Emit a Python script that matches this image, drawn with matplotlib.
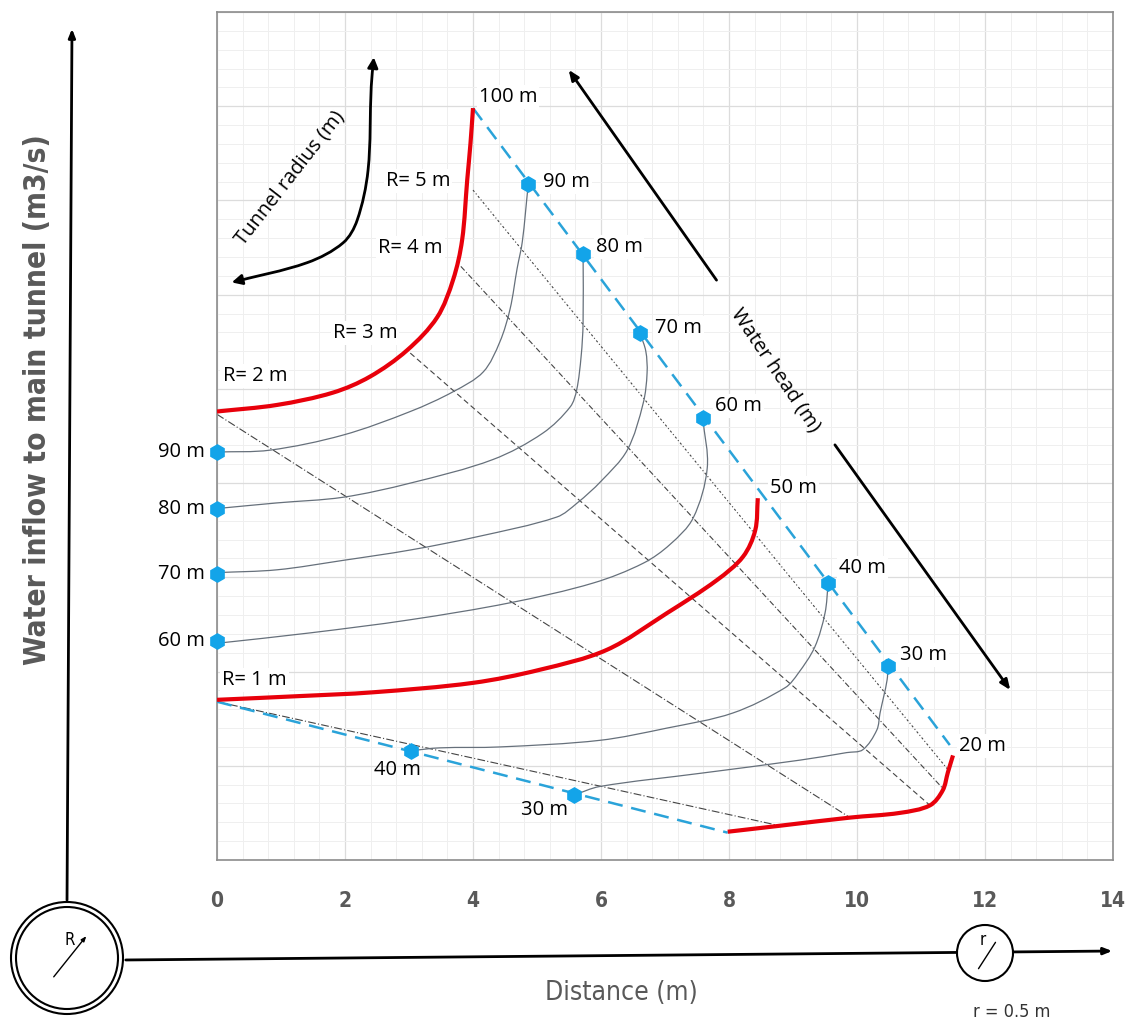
import matplotlib.pyplot as plt
from matplotlib.patches import Circle, FancyArrowPatch, PathPatch
from matplotlib.path import Path

# water head markers on the right (tunnel radius 5 m) edge
right_heads = ["90 m", "80 m", "70 m", "60 m", "40 m", "30 m"]
right_x = [4.86, 5.72, 6.61, 7.59, 9.55, 10.48]
right_y = [7.17, 6.43, 5.59, 4.69, 2.94, 2.06]

# water head markers on the left edge (distance 0)
left_heads = ["90 m", "80 m", "70 m", "60 m"]
left_x = [0, 0, 0, 0]
left_y = [4.33, 3.73, 3.04, 2.32]

# water head markers on the lower edge
bottom_heads = ["40 m", "30 m"]
bottom_x = [3.03, 5.58]
bottom_y = [1.16, 0.69]

# blue dashed envelopes
edge_right_x = [4.0, 11.45]
edge_right_y = [7.98, 1.22]
edge_bottom_x = [0.0, 7.98]
edge_bottom_y = [1.68, 0.29]

# red curves (100 m, 50 m, 20 m water head)
red100_x = [0.0, 0.94, 1.81, 2.39, 2.97, 3.44, 3.69, 3.83, 3.91, 3.96, 4.0]
red100_y = [4.76, 4.83, 4.96, 5.13, 5.41, 5.76, 6.16, 6.58, 7.22, 7.6, 7.98]
red50_x = [0.0, 1.30, 2.44, 4.0, 5.05, 6.09, 7.03, 7.81, 8.22, 8.41, 8.45]
red50_y = [1.70, 1.74, 1.78, 1.88, 2.02, 2.23, 2.62, 2.97, 3.22, 3.50, 3.84]
red20_x = [7.98, 8.75, 9.89, 10.67, 11.14, 11.34, 11.42, 11.50]
red20_y = [0.30, 0.36, 0.45, 0.50, 0.58, 0.74, 0.93, 1.11]

# grey curves for intermediate water heads
h90_x = [0.0, 0.83, 1.97, 3.02, 3.69, 4.16, 4.42, 4.58, 4.69, 4.77, 4.86]
h90_y = [4.33, 4.35, 4.51, 4.76, 4.97, 5.18, 5.50, 5.85, 6.28, 6.56, 7.15]
h80_x = [0.0, 0.94, 1.97, 3.02, 4.31, 5.09, 5.52, 5.62, 5.69, 5.72, 5.72]
h80_y = [3.73, 3.79, 3.85, 4.00, 4.25, 4.53, 4.81, 4.99, 5.35, 5.70, 6.43]
h70_x = [0.0, 0.94, 1.97, 3.02, 4.06, 5.31, 5.63, 6.0, 6.41, 6.66, 6.72, 6.70, 6.61]
h70_y = [3.05, 3.08, 3.18, 3.29, 3.43, 3.64, 3.79, 4.02, 4.35, 4.85, 5.17, 5.40, 5.59]
h60_x = [0.0, 1.45, 3.02, 4.58, 5.88, 6.66, 7.08, 7.44, 7.66, 7.59]
h60_y = [2.30, 2.41, 2.55, 2.73, 2.94, 3.15, 3.35, 3.63, 4.16, 4.69]
h40_x = [3.03, 3.48, 4.42, 5.98, 7.03, 8.06, 8.88, 9.08, 9.34, 9.50, 9.55]
h40_y = [1.16, 1.19, 1.20, 1.27, 1.40, 1.56, 1.83, 1.98, 2.26, 2.62, 2.94]
h30_x = [5.58, 5.98, 7.55, 9.11, 9.84, 10.09, 10.31, 10.36, 10.47, 10.48]
h30_y = [0.69, 0.78, 0.92, 1.06, 1.14, 1.17, 1.38, 1.56, 1.91, 2.06]

# tunnel radius iso-lines R = 1..5 m
radius_labels = ["R= 1 m", "R= 2 m", "R= 3 m", "R= 4 m", "R= 5 m"]
rad_x0 = [0.0, 0.0, 3.02, 3.81, 4.0]
rad_y0 = [1.68, 4.73, 5.38, 6.30, 7.11]
rad_x1 = [8.75, 9.89, 11.14, 11.34, 11.42]
rad_y1 = [0.37, 0.45, 0.58, 0.76, 0.96]

W, H = 1129, 1023
BLUE = "#13a4e9"
RED = "#e8000b"
TXT = "#595959"
plt.rcParams["font.family"] = ["Open Sans", "DejaVu Sans"]


def smooth(xs, ys, sx=64.0, sy=94.2):
    # smooth Bezier through the read points (chord-length tangents, screen scale)
    n = len(xs)
    d = [(((xs[i + 1] - xs[i]) * sx) ** 2 + ((ys[i + 1] - ys[i]) * sy) ** 2) ** 0.5
         for i in range(n - 1)]
    m = []
    for i in range(n):
        if i == 0:
            a, b, L = 0, 1, d[0]
        elif i == n - 1:
            a, b, L = n - 2, n - 1, d[-1]
        else:
            a, b, L = i - 1, i + 1, d[i - 1] + d[i]
        m.append(((xs[b] - xs[a]) / L, (ys[b] - ys[a]) / L))
    verts = [(xs[0], ys[0])]
    codes = [Path.MOVETO]
    for i in range(n - 1):
        k = d[i] / 3
        verts += [(xs[i] + m[i][0] * k, ys[i] + m[i][1] * k),
                  (xs[i + 1] - m[i + 1][0] * k, ys[i + 1] - m[i + 1][1] * k),
                  (xs[i + 1], ys[i + 1])]
        codes += [Path.CURVE4] * 3
    return Path(verts, codes)


fig = plt.figure(figsize=(W / 100, H / 100), dpi=100)
ax = fig.add_axes([217 / W, 163 / H, 896 / W, 848 / H])
ax.set_xlim(0, 14)
ax.set_ylim(0, 9)
ax.set_xticks(range(0, 15, 2))
ax.set_xticks([i * 0.4 for i in range(36)], minor=True)
ax.set_yticks(range(0, 10))
ax.set_yticks([i * 0.2 for i in range(46)], minor=True)
ax.grid(which="major", color="#dcdcdc", lw=0.9)
ax.grid(which="minor", color="#efefef", lw=0.7)
ax.set_axisbelow(True)
ax.tick_params(which="both", length=0)
ax.tick_params(axis="y", labelleft=False)
ax.tick_params(axis="x", pad=22, labelsize=15, labelcolor=TXT)
for lab in ax.get_xticklabels():
    lab.set_fontweight("bold")
    lab.set_family("DejaVu Sans")
    lab.set_fontstretch("condensed")
for sp in ax.spines.values():
    sp.set_color("#8c8c8c")
    sp.set_linewidth(1.2)

# radius iso-lines
styles = [(0, (7, 2, 1, 2)), (0, (7, 2, 1, 2)), (0, (5, 3)), (0, (5, 2, 1, 2)), (0, (2, 2, 1, 2))]
for i in range(5):
    ax.plot([rad_x0[i], rad_x1[i]], [rad_y0[i], rad_y1[i]], color="#444444",
            lw=0.8, ls=styles[i], zorder=2)

# grey head curves
for xs, ys in [(h90_x, h90_y), (h80_x, h80_y), (h70_x, h70_y), (h60_x, h60_y),
               (h40_x, h40_y), (h30_x, h30_y)]:
    ax.add_patch(PathPatch(smooth(xs, ys), fill=False, ec="#66707b", lw=0.9, zorder=3))

# blue dashed edges
ax.plot(edge_right_x, edge_right_y, color="#2aa3d9", lw=1.8, ls=(0, (6, 3.5)), zorder=3)
ax.plot(edge_bottom_x, edge_bottom_y, color="#2aa3d9", lw=1.8, ls=(0, (6, 3.5)), zorder=3)

# red curves
for xs, ys in [(red100_x, red100_y), (red50_x, red50_y), (red20_x, red20_y)]:
    ax.add_patch(PathPatch(smooth(xs, ys), fill=False, ec=RED, lw=3, capstyle="butt", zorder=4))

# markers
mk = dict(marker="h", ms=11, color=BLUE, ls="none", zorder=5, clip_on=False)
ax.plot(right_x, right_y, **mk)
ax.plot(left_x, left_y, **mk)
ax.plot(bottom_x, bottom_y, **mk)

box = dict(boxstyle="square,pad=0.1", fc="white", ec="none")
fs = 14.5
# right head labels
right_all = ["100 m"] + right_heads[:4] + ["50 m"] + right_heads[4:] + ["20 m"]
right_px = [red100_x[-1]] + right_x[:4] + [red50_x[-1]] + right_x[4:] + [red20_x[-1]]
right_py = [red100_y[-1]] + right_y[:4] + [red50_y[-1]] + right_y[4:] + [red20_y[-1]]
offs = [(4, 8), (11, 2), (9, 5), (11, 4), (9, 9), (9, 7), (8, 11), (9, 8), (4, 7)]
for lab, x, y, o in zip(right_all, right_px, right_py, offs):
    ax.annotate(lab, (x, y), xytext=o, textcoords="offset points", ha="left",
                va="center", fontsize=fs, bbox=box, zorder=6)
for lab, x, y in zip(left_heads, left_x, left_y):
    ax.annotate(lab, (x, y), xytext=(-9, 0), textcoords="offset points", ha="right",
                va="center", fontsize=fs, annotation_clip=False)
for lab, x, y, o in zip(bottom_heads, bottom_x, bottom_y, [(-10, -14), (-21, -11)]):
    ax.annotate(lab, (x, y), xytext=o, textcoords="offset points", ha="center",
                va="center", fontsize=fs, zorder=6)

# radius labels
r_pos = [(0.59, 1.91), (0.59, 5.14), (2.31, 5.59), (3.02, 6.50), (3.14, 7.21)]
for lab, (x, y) in zip(radius_labels, r_pos):
    ax.text(x, y, lab, ha="center", va="center", fontsize=fs, bbox=box, zorder=6)

# tunnel radius curved arrow
tr = smooth([0.23, 1.41, 1.97, 2.19, 2.36, 2.41, 2.45],
            [6.13, 6.34, 6.55, 6.79, 7.32, 8.21, 8.52])
ax.add_patch(FancyArrowPatch(path=tr, arrowstyle="<|-|>,head_length=6,head_width=3",
                             color="black", lw=2, zorder=6))
ax.text(1.14, 7.24, "Tunnel radius (m)", rotation=52, ha="center", va="center",
        fontsize=14.5, rotation_mode="anchor")

# water head arrows
ax.annotate("", xy=(5.47, 8.41), xytext=(7.83, 6.13),
            arrowprops=dict(arrowstyle="-|>,head_length=0.6,head_width=0.25", color="black", lw=2))
ax.annotate("", xy=(12.42, 1.78), xytext=(9.63, 4.43),
            arrowprops=dict(arrowstyle="-|>,head_length=0.6,head_width=0.25", color="black", lw=2))
ax.text(8.73, 5.20, "Water head (m)", rotation=-56, ha="center", va="center",
        fontsize=14.5, rotation_mode="anchor")

# outer sketch (pixel coordinates)
ov = fig.add_axes([0, 0, 1, 1], zorder=10)
ov.set_xlim(0, W)
ov.set_ylim(H, 0)
ov.axis("off")
ov.patch.set_alpha(0)
ov.annotate("", xy=(72, 26), xytext=(67, 903),
            arrowprops=dict(arrowstyle="-|>,head_length=0.5,head_width=0.2", color="black", lw=2))
ov.annotate("", xy=(1115, 951), xytext=(123, 960),
            arrowprops=dict(arrowstyle="-|>,head_length=0.5,head_width=0.2", color="black", lw=2))
ov.add_patch(Circle((67, 958), 56, fill=False, ec="black", lw=1.5))
ov.add_patch(Circle((67, 958), 51, fill=False, ec="black", lw=1.5))
ov.add_patch(Circle((985, 953), 28, fc="white", ec="black", lw=1.5, zorder=3))
ov.annotate("", xy=(88, 934), xytext=(52, 979),
            arrowprops=dict(arrowstyle="-|>,head_length=0.3,head_width=0.12", color="black", lw=1))
ov.annotate("", xy=(997, 940), xytext=(977, 971),
            arrowprops=dict(arrowstyle="-", color="black", lw=1), zorder=4)
ov.text(70, 940, "R", ha="center", va="center", fontsize=12, fontstretch="condensed",
        family="DejaVu Sans")
ov.text(983, 940, "r", ha="center", va="center", fontsize=12, zorder=4,
        family="DejaVu Sans", fontstretch="condensed")
ov.text(38, 400, "Water inflow to main tunnel (m3/s)", rotation=90, ha="center",
        va="center", fontsize=21.5, color=TXT, fontweight="semibold",
        family="DejaVu Sans", fontstretch="condensed")
ov.text(621, 993, "Distance (m)", ha="center", va="center", fontsize=19,
        color=TXT, family="DejaVu Sans", fontstretch="condensed")
ov.text(1012, 1012, "r = 0.5 m", ha="center", va="center", fontsize=13,
        color="#333333", family="DejaVu Sans", fontstretch="condensed")

fig.savefig("out.png", dpi=100)
